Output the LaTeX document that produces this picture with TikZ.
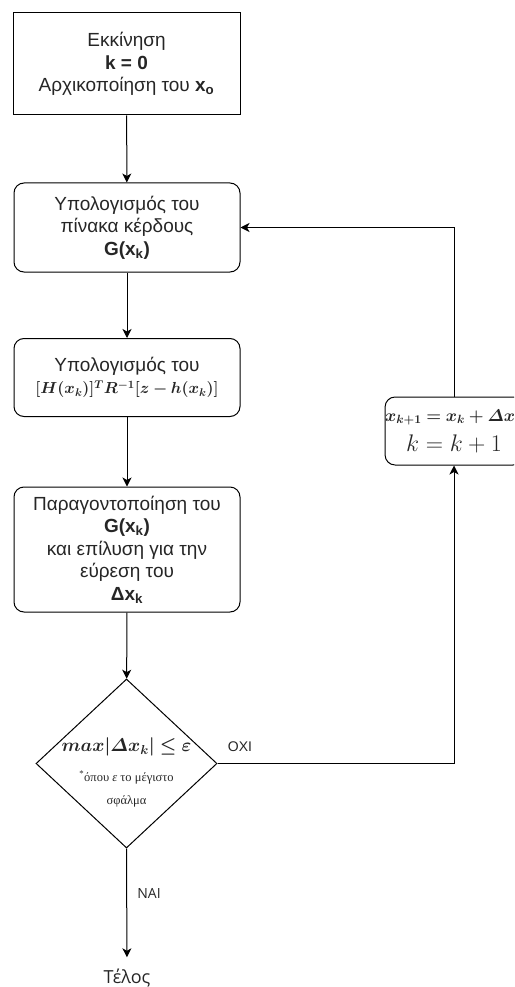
\RequirePackage{fix-cm}
\documentclass[tikz,border=0pt]{standalone}
\usepackage{amsmath,bm}
\usepackage[no-math]{fontspec}
\setmainfont{Liberation Sans}
\newfontfamily\grserif{Liberation Serif}
\newfontfamily\opensans{Open Sans}
\usetikzlibrary{shapes.geometric,arrows.meta}

\begin{document}
\begin{tikzpicture}[x=1pt,y=-1pt,
  every node/.style={font=\fontsize{19}{22.5}\selectfont, text=black!85},
  box/.style={draw=black, line width=1pt, minimum width=226pt, inner sep=0pt, align=center},
  rbox/.style={box, rounded corners=10pt},
  link/.style={draw=black, line width=1pt, -{Stealth[length=9pt,width=9pt,inset=2.5pt]}},
  edgetag/.style={font=\fontsize{14}{16}\selectfont, inner sep=0pt},
]
\useasboundingbox (0,0) rectangle (514,987);
\clip (0,0) rectangle (514,987);

% process steps
\node[box, minimum width=227pt, minimum height=102pt] (start) at (126.5,64)
  {Εκκίνηση\\\textbf{k = 0}\\Αρχικοποίηση του \textbf{x\textsubscript{o}}};
\node[rbox, minimum height=89pt] (gain) at (127,227.5)
  {Υπολογισμός του\\πίνακα κέρδους\\\textbf{G(x\textsubscript{k})}};
\node[rbox, minimum height=78pt] (hterm) at (127,377.5)
  {Υπολογισμός του\\{\fontsize{16}{20}\selectfont$\bm{[H(x_k)]^{T}R^{-1}[z-h(x_k)]}$}};
\node[rbox, minimum height=125pt] (solve) at (127,549.5)
  {Παραγοντοποίηση του\\\textbf{G(x\textsubscript{k})}\\και επίλυση για την\\εύρεση του\\\textbf{Δx\textsubscript{k}}};

% convergence test
\node[diamond, draw=black, line width=1pt, minimum width=181pt, minimum height=169pt, inner sep=0pt] (check) at (126.5,763.5) {};
\node[inner sep=0pt, font=\fontsize{18.5}{22}\selectfont] (checkmath) at (126.5,747)
  {$\bm{max|\varDelta x_k|\le\varepsilon}$};
\node[inner sep=0pt, align=center, font=\grserif\fontsize{12.5}{23}\selectfont] (checknote) at (126.5,789)
  {\textsuperscript{*}όπου \textit{ε} το μέγιστο\\σφάλμα};

% update step
\node[rbox, minimum width=134pt, minimum height=68pt, font=\fontsize{17}{30}\selectfont] (update) at (454,431)
  {$\bm{x_{k+1}=x_k+\varDelta x_k}$\\{\fontsize{24}{28}\selectfont $k=k+1$}};

% end
\node[inner sep=0pt, anchor=base, font=\opensans\fontsize{18}{20}\selectfont] (telos) at (127,983) {Τέλος};

% connectors
\draw[link] (start) -- (gain);
\draw[link] (gain) -- (hterm);
\draw[link] (hterm) -- (solve);
\draw[link] (solve) -- (check);
\draw[link, shorten >=11pt] (check.south) -- (telos.north);
\draw[link] (check.east) -| (update.south);
\draw[link] (update.north) |- (gain.east);

% branch labels
\node[edgetag] (no) at (240,747) {ΟΧΙ};
\node[edgetag, font=\opensans\fontsize{14}{16}\selectfont] (yes) at (149,893) {ΝΑΙ};
\end{tikzpicture}
\end{document}
